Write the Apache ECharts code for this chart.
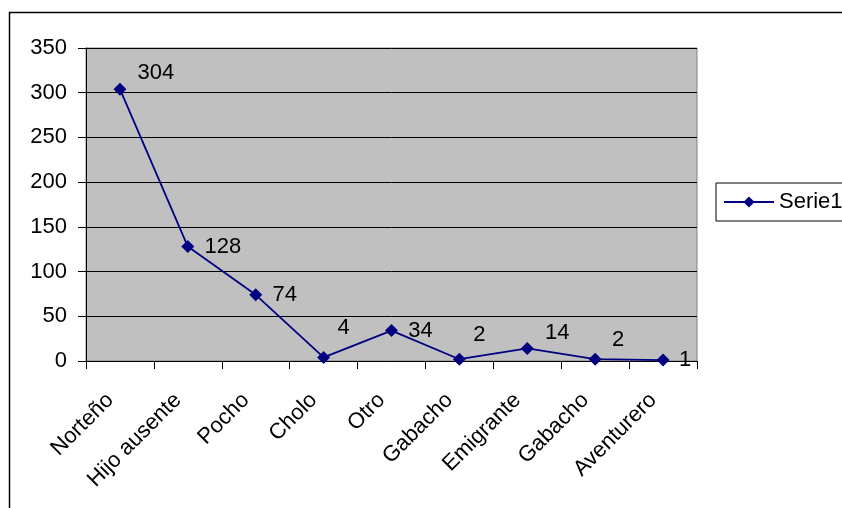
<!DOCTYPE html>
<html>
<head>
<meta charset="utf-8">
<script src="https://cdn.jsdelivr.net/npm/echarts@6/dist/echarts.min.js"></script>
<style>
  html, body { margin: 0; padding: 0; background: #fff; }
  #chart { width: 842px; height: 508px; }
</style>
</head>
<body>
<div id="chart"></div>
<script>
// Categories and counts
const categories = ['Norteño', 'Hijo ausente', 'Pocho', 'Cholo', 'Otro', 'Gabacho', 'Emigrante', 'Gabacho', 'Aventurero'];
const serie1 = [304, 128, 74, 4, 34, 2, 14, 2, 1];
const yTicks = { min: 0, max: 350, interval: 50 };

// Where each value label sits relative to its marker (px)
const labelOffsets = [[36, -16], [35, 0], [29, 0], [20, -29], [29, 0], [20, -24], [30, -16], [23, -19], [22, 0]];

const FONT = '"Liberation Sans", Arial, sans-serif';
const FS = 22;
const NAVY = '#000080';

const seriesData = serie1.map((v, i) => ({
  value: v,
  label: { offset: labelOffsets[i] }
}));

const chart = echarts.init(document.getElementById('chart'), null, { renderer: 'canvas' });
chart.setOption({
  animation: false,
  backgroundColor: '#ffffff',
  textStyle: { fontFamily: FONT },
  graphic: [{
    type: 'rect',
    shape: { x: 9.5, y: 12.5, width: 900, height: 600 },
    style: { fill: 'none', stroke: '#000', lineWidth: 1.5 },
    silent: true
  }],
  grid: {
    left: 86, top: 48, width: 611, height: 313,
    show: true,
    backgroundColor: '#C0C0C0',
    borderColor: '#808080',
    borderWidth: 1
  },
  legend: {
    left: 716, top: 183,
    orient: 'vertical',
    padding: [8, 40, 8, 7],
    borderColor: '#000', borderWidth: 1,
    backgroundColor: '#fff',
    itemWidth: 50, itemHeight: 14,
    textStyle: { fontFamily: FONT, fontSize: FS, color: '#000' },
    data: [{ name: 'Serie1' }]
  },
  xAxis: {
    type: 'category',
    data: categories,
    boundaryGap: true,
    axisLine: { lineStyle: { color: '#000', width: 1 } },
    axisTick: { show: true, length: 8, alignWithLabel: false, lineStyle: { color: '#000' } },
    axisLabel: { rotate: 45, margin: 26, padding: [0, 14, 0, 0], interval: 0, fontFamily: FONT, fontSize: FS, color: '#000' },
    splitLine: { show: false }
  },
  yAxis: {
    type: 'value',
    min: yTicks.min, max: yTicks.max, interval: yTicks.interval,
    axisLine: { show: true, lineStyle: { color: '#000', width: 1 } },
    axisTick: { show: true, length: 8, lineStyle: { color: '#000' } },
    axisLabel: { margin: 19, fontFamily: FONT, fontSize: FS, color: '#000' },
    splitLine: { show: true, lineStyle: { color: '#000', width: 1 } }
  },
  series: [{
    name: 'Serie1',
    type: 'line',
    data: seriesData,
    symbol: 'diamond',
    symbolSize: 13,
    itemStyle: { color: NAVY },
    lineStyle: { color: NAVY, width: 1.8 },
    label: {
      show: true,
      position: 'inside',
      align: 'center',
      verticalAlign: 'middle',
      fontFamily: FONT, fontSize: FS, color: '#000'
    }
  }]
});
</script>
</body>
</html>
